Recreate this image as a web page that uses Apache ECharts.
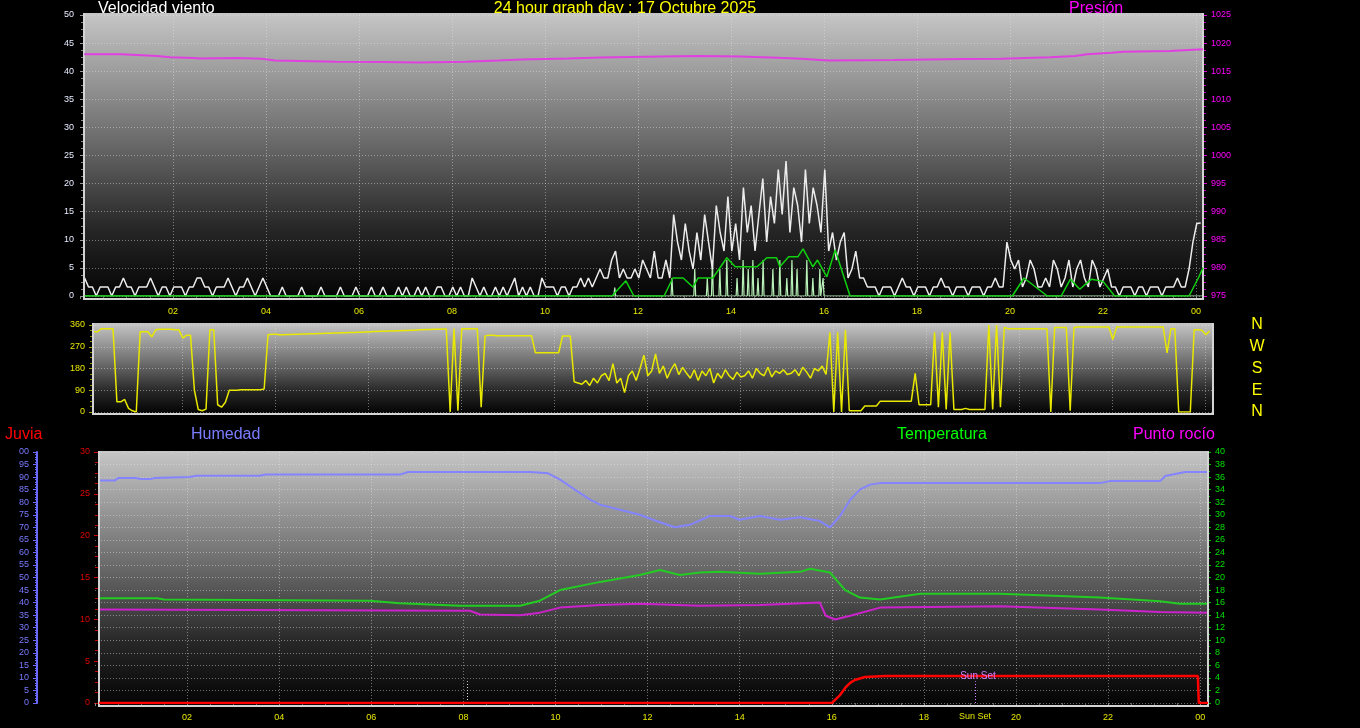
<!DOCTYPE html>
<html><head><meta charset="utf-8">
<script src="https://cdn.jsdelivr.net/npm/echarts@6/dist/echarts.min.js"></script>
<style>html,body{margin:0;padding:0;background:#000;}#c{width:1360px;height:728px;}</style>
</head><body><div id="c"></div>
<script>
// ---------- DATA ----------
const hourTicks = [2,4,6,8,10,12,14,16,18,20,22,24];
// wind gust (km/h), every 5 minutes from 00:06
const gustStart = 0.1, gustStep = 1/12;
const gust = [
 3.2,1.6,1.6,0,1.6,1.6,1.6,0,1.6,1.6,3.2,1.6,
 1.6,0,1.6,1.6,1.6,3.2,1.6,0,1.6,1.6,0,1.6,
 1.6,1.6,0,1.6,1.6,3.2,3.2,1.6,1.6,0,1.6,1.6,
 1.6,3.2,1.6,0,1.6,1.6,3.2,1.6,0,1.6,3.2,1.6,
 0,0,0,1.6,0,0,0,0,1.6,0,0,0,
 0,1.6,0,0,0,0,1.6,0,0,0,1.6,0,
 0,0,1.6,0,0,1.6,0,0,0,1.6,0,1.6,
 0,0,1.6,0,1.6,0,0,1.6,1.6,0,0,1.6,
 0,1.6,0,0,3.2,1.6,0,1.6,0,0,1.6,0,
 1.6,0,1.6,3.2,0,1.6,0,1.6,0,0,3.2,1.6,
 1.6,1.6,0,1.6,1.6,0,1.6,1.6,3.2,1.6,3.2,1.6,
 3.2,4.8,3.2,3.2,6.4,8,3.2,4.8,3.2,3.2,4.8,3.2,
 6.4,4.8,3.2,8,3.2,3.2,6.4,3.2,14.5,9.6,6.4,12.9,
 8,4.8,11.3,6.4,14.5,9.6,4.8,16.1,11.3,8,17.7,8,
 12.9,6.4,19.3,11.3,16.1,8,14.5,20.9,9.6,17.7,12.9,22.5,
 14.5,24,11.3,19.3,16.1,9.6,22.5,12.9,19.3,16.1,11.3,22.5,
 8,11.3,6.4,9.6,11.3,3.2,4.8,8,3.2,3.2,1.6,1.6,
 1.6,0,1.6,1.6,1.6,0,1.6,3.2,1.6,1.6,0,1.6,
 1.6,1.6,0,1.6,1.6,3.2,1.6,1.6,0,1.6,1.6,1.6,
 0,1.6,1.6,1.6,0,1.6,1.6,3.2,1.6,1.6,9.6,6.4,
 4.8,6.4,1.6,3.2,6.4,4.8,1.6,1.6,3.2,1.6,6.4,4.8,
 1.6,3.2,6.4,1.6,4.8,6.4,3.2,1.6,6.4,4.8,1.6,3.2,
 4.8,1.6,1.6,0,1.6,1.6,1.6,0,1.6,1.6,0,1.6,
 1.6,1.6,0,1.6,1.6,1.6,3.2,1.6,1.6,4.8,9.6,12.9,
 13
];
// average wind speed (km/h)
const avgTimes = [0.1,11.44,11.74,11.91,12.56,12.75,12.97,13.18,13.29,13.61,13.91,14.09,14.56,14.77,14.98,15.05,15.24,15.44,15.55,15.76,15.86,16.06,16.24,16.56,16.84,20.05,20.3,20.8,21.1,21.3,21.5,21.75,22.0,22.25,23.85,24.05,24.15];
const avgVals  = [0,0,2.7,0,0,3.2,3.2,1.6,3.2,3.2,6.8,5.2,5.2,6.8,6.8,5.2,7,7,8.4,5.2,6.4,3.4,8.2,0,0,0,3.2,0,0,3.0,1.2,3.0,2.6,0,0,3.2,5.0];
// instantaneous wind spikes (km/h)
const spikeTimes = [11.5,12.73,13.22,13.49,13.6,13.76,13.91,14.13,14.26,14.37,14.47,14.58,14.69,14.9,15.05,15.2,15.31,15.42,15.63,15.76,15.91,15.98];
const spikeVals  = [1.5,3.2,4.8,3.2,6.4,4.8,6.4,3.2,6.4,4.8,6.4,3.2,6.4,4.8,6.4,3.2,6.4,4.8,6.4,3.2,4.8,3.2];
// pressure (hPa)
const pressTimes = [0.09,0.88,1.66,1.94,2.43,2.58,3.38,3.91,4.19,5.5,6.5,7.3,8.3,9.0,9.5,10.5,11.2,12.5,13.3,14.2,15.0,15.5,16.1,17.5,19.0,19.8,20.86,21.4,21.66,22.19,22.43,23.44,24.15];
const pressVals  = [1018.0,1017.7,1017.5,1017.35,1017.25,1017.35,1017.2,1016.9,1016.7,1016.65,1016.55,1016.7,1016.9,1017.1,1017.25,1017.45,1017.6,1017.7,1017.6,1017.4,1017.2,1016.9,1017.0,1017.15,1017.2,1017.5,1017.7,1018.0,1018.3,1018.45,1018.6,1018.9,1018.9];
// wind direction (deg), every 5 minutes from 00:06
const dirStart = 0.1, dirStep = 1/12;
const dir = [
 332,332,345,345,345,345,42,42,52,15,5,0,
 332,332,332,311,340,342,342,342,342,340,340,306,
 318,318,90,10,5,12,340,340,30,20,40,90,
 90,90,92,92,92,92,92,92,95,320,322,322,
 320,320,321,321,322,322,323,323,324,324,325,325,
 326,326,327,327,328,328,329,329,330,330,331,331,
 333,333,334,334,335,335,336,336,337,337,338,338,
 340,340,341,341,342,342,343,343,0,345,5,345,
 345,345,345,345,20,315,318,318,316,316,316,316,
 316,316,316,316,316,316,245,245,245,245,245,245,
 245,315,315,315,125,120,115,130,110,140,120,150,
 160,130,200,120,140,80,150,170,130,180,235,150,
 170,240,160,190,140,175,200,155,185,160,140,175,
 130,170,150,180,120,160,140,175,150,135,165,145,
 150,170,140,180,160,150,185,145,170,160,175,155,
 160,175,150,185,165,140,180,170,190,155,330,0,
 330,0,340,5,5,5,5,25,25,25,25,45,
 45,45,45,45,45,45,45,45,160,30,30,30,
 30,330,20,330,10,330,10,10,10,15,10,10,
 10,10,10,360,10,360,20,350,345,345,345,345,
 345,345,345,345,345,345,345,0,350,350,350,350,
 5,350,352,352,352,352,352,352,352,352,352,300,
 352,352,352,352,352,352,352,352,352,352,352,352,
 352,245,345,345,0,0,0,0,340,340,338,320,
 335
];
const dirNames = {0:'N',90:'E',180:'S',270:'W',360:'N'};
// humidity (%)
const humTimes = [0.09,0.43,0.5,0.87,1.0,1.19,1.3,2.06,2.2,3.58,3.7,6.62,6.8,9.45,9.84,10.1,10.42,10.75,10.97,11.4,11.83,12.27,12.59,12.92,13.35,13.79,14.0,14.44,14.88,15.31,15.74,15.96,16.18,16.4,16.61,16.83,17.05,21.82,22.04,23.13,23.24,23.67,24.17];
const humVals  = [88.6,88.6,89.6,89.6,89.2,89.2,89.6,90,90.5,90.5,91,91,92,92,91.5,89,85,81,79,77,75,72,70,71,74.5,74.5,73,74.5,73,74,72.5,70,74.5,81,85,87,87.6,87.6,88.4,88.4,90.4,92,92];
// temperature (°C)
const tempTimes = [0.11,1.35,1.5,5.97,6.62,7.93,9.23,9.66,10.1,10.97,11.83,12.27,12.7,13.14,13.57,14.44,15.31,15.53,15.96,16.29,16.61,17.05,17.92,19.65,21.82,23.13,23.56,24.17];
const tempVals  = [16.7,16.7,16.5,16.3,15.9,15.5,15.5,16.3,18,19.3,20.4,21.2,20.4,20.8,20.9,20.6,20.9,21.4,20.8,18,16.8,16.5,17.4,17.4,16.8,16.2,15.8,15.8];
// dew point (°C)
const dewTimes = [0.11,8.14,8.36,9.23,9.66,10.1,10.97,11.83,13.14,14.44,15.74,15.87,16.07,16.4,17.05,19.65,21.82,23.13,24.17];
const dewVals  = [14.9,14.7,14.1,14.0,14.4,15.2,15.6,15.8,15.5,15.6,16,13.9,13.3,13.9,15.2,15.4,14.9,14.5,14.4];
// rain (mm)
const rainTimes = [0.09,16.0,16.18,16.29,16.4,16.5,16.72,17.15,23.95,23.97,24.17];
const rainVals  = [0,0,0.95,1.8,2.4,2.75,3.1,3.23,3.23,0,0];
const sunRise = 8.08, sunSet = 19.11;
// ---------- CHART ----------
const pair = (ts, vs) => ts.map((t, i) => [t, vs[i]]);
const seq = (s, st, vs) => vs.map((v, i) => [s + i * st, v]);
const spikeData = [[0.1, 0]];
spikeTimes.forEach((t, i) => { spikeData.push([t - 0.02, 0], [t, spikeVals[i]], [t + 0.02, 0]); });
spikeData.push([24.15, 0]);
const pad = v => (v % 24 < 10 ? '0' : '') + (v % 24);
const F = 'Liberation Sans, Arial, sans-serif';
const dot = { type: [1, 2], color: 'rgba(230,230,230,0.45)', width: 1 };

function xAx(grid, max, showLabel, margin) {
  return {
    type: 'value', gridIndex: grid, min: 0, max: max, interval: 2,
    axisLine: { show: false },
    axisTick: { show: showLabel, length: 3, lineStyle: { color: '#888' } },
    minorTick: { show: showLabel, splitNumber: 4, length: 3, lineStyle: { color: '#666' } },
    axisLabel: { show: showLabel, color: '#e8e800', fontSize: 9, fontFamily: F, margin: margin,
      showMinLabel: false, showMaxLabel: false, formatter: v => hourTicks.includes(v) ? pad(v) : '' },
    splitLine: { show: true, lineStyle: dot, showMinLine: false, showMaxLine: false }
  };
}
function bgRect(x1, y1, x2, y2) {
  return [{
    type: 'rect', z: -5, shape: { x: x1, y: y1, width: x2 - x1, height: y2 - y1 },
    style: { fill: new echarts.graphic.LinearGradient(0, 0, 0, 1, [
      { offset: 0, color: '#c6c6c6' }, { offset: 0.45, color: '#6a6a6a' },
      { offset: 0.75, color: '#272727' }, { offset: 1, color: '#030303' }]) }
  }, {
    type: 'polyline', z: 5, shape: { points: [[x1, y1], [x1, y2], [x2, y2], [x2, y1]] },
    style: { stroke: '#d4d4d4', lineWidth: 2, fill: null }
  }];
}
function txt(x, y, s, color, align) {
  return { type: 'text', z: -8, x: x, y: y, style: { text: s, fill: color, font: '16px ' + F, textAlign: align || 'left', textVerticalAlign: 'bottom' } };
}
function graphics(extra) {
  return [].concat(
    bgRect(84, 13, 1203, 299), bgRect(93, 323, 1213, 414), bgRect(99, 451, 1208, 706),
    [txt(98, 17, 'Velocidad viento', '#ffffff'),
     txt(625, 17, '24 hour graph day : 17 Octubre 2025', '#ffff00', 'center'),
     txt(1069, 17, 'Presión', '#ff00ff'),
     txt(5, 443, 'Juvia', '#ff0000'),
     txt(191, 443, 'Humedad', '#7c7cff'),
     txt(897, 443, 'Temperatura', '#00ff00'),
     txt(1133, 443, 'Punto rocío', '#ff00ff')], extra || []);
}

const chart = echarts.init(document.getElementById('c'));
chart.setOption({
  backgroundColor: '#000',
  animation: false,
  grid: [
    { left: 80, top: 15, width: 1123, height: 281 },
    { left: 89, top: 325, width: 1123, height: 87 },
    { left: 95, top: 452, width: 1113, height: 251 }
  ],
  xAxis: [xAx(0, 24.15, true, 11), xAx(1, 24.15, false, 0), xAx(2, 24.17, true, 10)],
  yAxis: [
    { type: 'value', gridIndex: 0, min: 0, max: 50, interval: 5, position: 'left', offset: -4,
      axisLine: { show: false }, axisTick: { length: 4, lineStyle: { color: '#999' } },
      minorTick: { show: true, splitNumber: 4, length: 3, lineStyle: { color: '#888' } },
      axisLabel: { color: '#e8ecff', fontSize: 9, fontFamily: F, margin: 10 },
      splitLine: { lineStyle: dot } },
    { type: 'value', gridIndex: 0, min: 975, max: 1025, interval: 5, position: 'right',
      axisLine: { show: false }, axisTick: { length: 4, lineStyle: { color: '#e000e0' } },
      minorTick: { show: true, splitNumber: 4, length: 3, lineStyle: { color: '#c000c0' } },
      axisLabel: { color: '#ff00ff', fontSize: 9, fontFamily: F, margin: 8, formatter: v => String(v) },
      splitLine: { show: false } },
    { type: 'value', gridIndex: 1, min: 0, max: 360, interval: 90, position: 'left', offset: -4,
      axisLine: { show: false }, axisTick: { length: 4, lineStyle: { color: '#a0a000' } },
      minorTick: { show: true, splitNumber: 4, length: 3, lineStyle: { color: '#909000' } },
      axisLabel: { color: '#e8e800', fontSize: 9, fontFamily: F, margin: 8 },
      splitLine: { lineStyle: dot } },
    { type: 'value', gridIndex: 1, min: 0, max: 360, interval: 90, position: 'right',
      axisLine: { show: false }, axisTick: { show: false },
      axisLabel: { color: '#ffff00', fontSize: 16, fontFamily: F, margin: 45, align: 'center',
        formatter: v => dirNames[v] || '' },
      splitLine: { show: false } },
    { type: 'value', gridIndex: 2, min: 0, max: 30, interval: 5, position: 'left', offset: -3,
      axisLine: { show: false }, axisTick: { length: 4, lineStyle: { color: '#d00000' } },
      minorTick: { show: true, splitNumber: 4, length: 3, lineStyle: { color: '#c00000' } },
      axisLabel: { color: '#e00000', fontSize: 9, fontFamily: F, margin: 8 },
      splitLine: { show: false } },
    { type: 'value', gridIndex: 2, min: 0, max: 100, interval: 5, position: 'left', offset: 58,
      axisLine: { show: true, lineStyle: { color: '#6a6aff', width: 2 } },
      axisTick: { length: 4, lineStyle: { color: '#6a6aff' } },
      minorTick: { show: true, splitNumber: 5, length: 2, lineStyle: { color: '#6a6aff' } },
      axisLabel: { color: '#7a7aff', fontSize: 9, fontFamily: F, margin: 8, formatter: v => v === 100 ? '00' : String(v) },
      splitLine: { show: false } },
    { type: 'value', gridIndex: 2, min: 0, max: 40, interval: 2, position: 'right',
      axisLine: { show: false }, axisTick: { length: 3, lineStyle: { color: '#00c000' } },
      minorTick: { show: true, splitNumber: 2, length: 2, lineStyle: { color: '#00b000' } },
      axisLabel: { color: '#00e000', fontSize: 9, fontFamily: F, margin: 7 },
      splitLine: { lineStyle: dot } }
  ],
  series: [
    { type: 'line', name: 'spikes', xAxisIndex: 0, yAxisIndex: 0, data: spikeData, symbol: 'none',
      lineStyle: { color: '#b8f0b8', width: 1.2 }, z: 3 },
    { type: 'line', name: 'gust', xAxisIndex: 0, yAxisIndex: 0, data: seq(gustStart, gustStep, gust), symbol: 'none',
      lineStyle: { color: '#ececec', width: 1.5 }, z: 4 },
    { type: 'line', name: 'avg', xAxisIndex: 0, yAxisIndex: 0, data: pair(avgTimes, avgVals), symbol: 'none',
      lineStyle: { color: '#10d010', width: 1.5 }, z: 5 },
    { type: 'line', name: 'press', xAxisIndex: 0, yAxisIndex: 1, data: pair(pressTimes, pressVals), symbol: 'none', step: 'end',
      lineStyle: { color: '#e040e0', width: 2 }, z: 5 },
    { type: 'line', name: 'dir', xAxisIndex: 1, yAxisIndex: 2, data: seq(dirStart, dirStep, dir), symbol: 'none',
      lineStyle: { color: '#e8e800', width: 1.5 } },
    { type: 'line', name: 'hum', xAxisIndex: 2, yAxisIndex: 5, data: pair(humTimes, humVals), symbol: 'none',
      lineStyle: { color: '#8484ff', width: 2 } },
    { type: 'line', name: 'temp', xAxisIndex: 2, yAxisIndex: 6, data: pair(tempTimes, tempVals), symbol: 'none',
      lineStyle: { color: '#22cc22', width: 2 } },
    { type: 'line', name: 'dew', xAxisIndex: 2, yAxisIndex: 6, data: pair(dewTimes, dewVals), symbol: 'none',
      lineStyle: { color: '#cc22cc', width: 2 } },
    { type: 'line', name: 'rain', xAxisIndex: 2, yAxisIndex: 4, data: pair(rainTimes, rainVals), symbol: 'none',
      lineStyle: { color: '#ff0000', width: 2.5 }, z: 6,
      markLine: { silent: true, symbol: 'none', animation: false, label: { show: false }, data: [
        [{ coord: [sunSet, 0], lineStyle: { color: '#d080ff', type: [1, 2], width: 1 } }, { coord: [sunSet, 2.6] }],
        [{ coord: [sunRise, 0], lineStyle: { color: '#e0e0e0', type: [1, 2], width: 1 } }, { coord: [sunRise, 2.6] }]
      ] } }
  ],
  graphic: graphics()
});
// Sun Set labels positioned through the axes
const pSet = chart.convertToPixel({ xAxisIndex: 2, yAxisIndex: 4 }, [sunSet, rainVals[7]]);
const pBase = chart.convertToPixel({ xAxisIndex: 2, yAxisIndex: 4 }, [sunSet, 0]);
chart.setOption({ graphic: graphics([
  { type: 'text', z: 20, x: pSet[0] + 3, y: pSet[1], style: { text: 'Sun Set', fill: '#d080ff', font: '10px ' + F, textAlign: 'center', textVerticalAlign: 'middle' } },
  { type: 'text', z: 20, x: pBase[0], y: pBase[1] + 14, style: { text: 'Sun Set', fill: '#e8e800', font: '9px ' + F, textAlign: 'center', textVerticalAlign: 'middle' } }
]) });
</script></body></html>
